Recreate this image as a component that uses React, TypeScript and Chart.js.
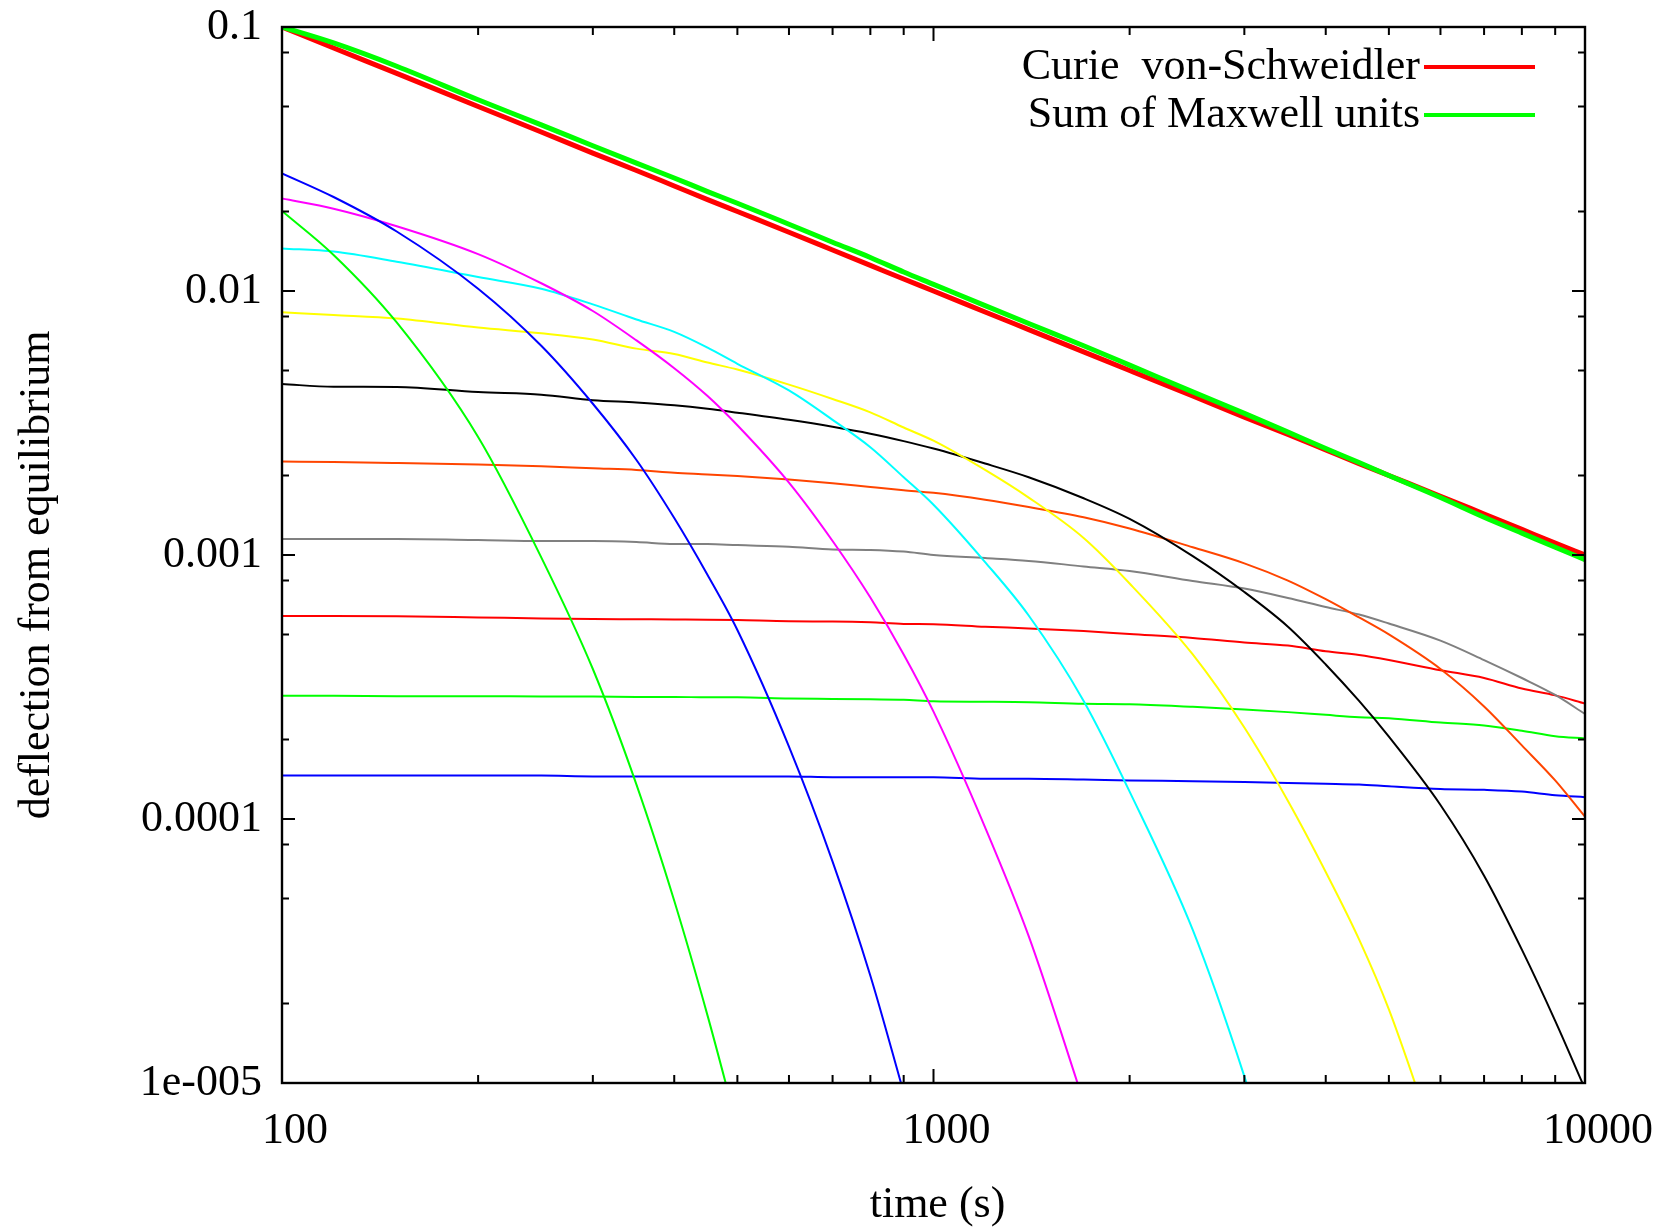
import React, { useEffect, useRef } from "react";
import { Chart, registerables } from "chart.js";

Chart.register(...registerables);

// Sample times (s) shared by every curve
const times = [
  100, 120, 150, 200, 250, 300, 350, 400, 450, 500,
  600, 700, 800, 900, 1000, 1200, 1400, 1700, 2000, 2500,
  3000, 3500, 4000, 4500, 5000, 6000, 7000, 8000, 9000, 10000,
];

// Power-law (Curie - von Schweidler) relaxation
const curieVonSchweidler = [
  0.1, 0.0833, 0.0667, 0.05, 0.04, 0.0333, 0.0286, 0.025, 0.0222, 0.02,
  0.0167, 0.0143, 0.0125, 0.0111, 0.01, 0.00833, 0.00714, 0.00588, 0.005, 0.004,
  0.00333, 0.00286, 0.0025, 0.00222, 0.002, 0.00167, 0.00143, 0.00125, 0.00111, 0.001,
];

// Sum of all the Maxwell units below
const maxwellSum = [
  0.1, 0.087, 0.071, 0.053, 0.0426, 0.0355, 0.0305, 0.0268, 0.0238, 0.0215,
  0.0179, 0.0153, 0.0134, 0.0118, 0.0106, 0.0088, 0.00753, 0.0062, 0.00524, 0.00415,
  0.00344, 0.00292, 0.00253, 0.00224, 0.002, 0.00165, 0.00139, 0.00121, 0.00107, 0.00096,
];

// Individual Maxwell units (null once a unit has decayed off the axis)
const unit1 = [
  0.0201, 0.0137, 0.0076, 0.0028, 0.00098, 0.00037, 0.000135, 0.000049, 0.000018, 0.0000068,
  null, null, null, null, null, null, null, null, null, null,
  null, null, null, null, null, null, null, null, null, null,
];
const unit2 = [
  0.0279, 0.0227, 0.0168, 0.0102, 0.0062, 0.00374, 0.00229, 0.00138, 0.00084, 0.00052,
  0.000188, 0.000069, 0.0000255, 0.0000092, null, null, null, null, null, null,
  null, null, null, null, null, null, null, null, null, null,
];
const unit3 = [
  0.0224, 0.0205, 0.0176, 0.0138, 0.0107, 0.0084, 0.0065, 0.0051, 0.004, 0.0031,
  0.00188, 0.00113, 0.00069, 0.00042, 0.000255, 0.000093, 0.000036, 0.0000085, null, null,
  null, null, null, null, null, null, null, null, null, null,
];
const unit4 = [
  0.0145, 0.0141, 0.0129, 0.0113, 0.0102, 0.0089, 0.0078, 0.007, 0.0061, 0.0053,
  0.0042, 0.00325, 0.00256, 0.00197, 0.00155, 0.00094, 0.00059, 0.00028, 0.000127, 0.000038,
  0.0000106, 0.000003, null, null, null, null, null, null, null, null,
];
const unit5 = [
  0.0083, 0.00811, 0.00787, 0.00727, 0.00692, 0.00655, 0.00605, 0.00577, 0.00536, 0.00504,
  0.00442, 0.0039, 0.00347, 0.00304, 0.00271, 0.0021, 0.00165, 0.00116, 0.00078, 0.00042,
  0.000222, 0.000117, 0.000063, 0.000035, 0.000019, 0.0000052, null, null, null, null,
];
const unit6 = [
  0.00444, 0.00434, 0.00433, 0.00414, 0.00405, 0.00386, 0.00378, 0.00369, 0.00358, 0.00346,
  0.00325, 0.00306, 0.00288, 0.0027, 0.00253, 0.00222, 0.00197, 0.00164, 0.00137, 0.00099,
  0.000724, 0.000535, 0.000385, 0.00028, 0.000205, 0.000113, 0.000061, 0.000032, 0.0000172, 0.0000095,
];
const unit7 = [
  0.00226, 0.00225, 0.00223, 0.0022, 0.00217, 0.00213, 0.0021, 0.00205, 0.00202, 0.00199,
  0.00193, 0.00187, 0.00181, 0.00176, 0.00172, 0.00162, 0.00152, 0.00139, 0.00126, 0.00107,
  0.00093, 0.0008, 0.00068, 0.00058, 0.0005, 0.00037, 0.000267, 0.00019, 0.00014, 0.000102,
];
const unit8 = [
  0.00115, 0.00115, 0.00115, 0.00114, 0.00113, 0.00113, 0.00112, 0.0011, 0.0011, 0.00109,
  0.001075, 0.00105, 0.001045, 0.00103, 0.001, 0.000974, 0.00095, 0.000905, 0.00087, 0.000797,
  0.000746, 0.000687, 0.000635, 0.000595, 0.00055, 0.000474, 0.0004, 0.000342, 0.000295, 0.00025,
];
const unit9 = [
  0.000587, 0.000587, 0.000586, 0.00058, 0.000575, 0.000572, 0.000571, 0.00057, 0.000569, 0.000567,
  0.000561, 0.00056, 0.000556, 0.000548, 0.000547, 0.000535, 0.000527, 0.000515, 0.000502, 0.000485,
  0.000466, 0.000454, 0.000432, 0.000418, 0.0004, 0.000366, 0.000342, 0.000312, 0.000294, 0.000274,
];
const unit10 = [
  0.000293, 0.000293, 0.000292, 0.000292, 0.000291, 0.000291, 0.00029, 0.00029, 0.000289, 0.000289,
  0.000286, 0.000285, 0.000284, 0.000283, 0.000279, 0.000278, 0.000277, 0.000273, 0.000272, 0.000266,
  0.00026, 0.000254, 0.000248, 0.000243, 0.000241, 0.000232, 0.000226, 0.000216, 0.000206, 0.000202,
];
const unit11 = [
  0.000146, 0.000146, 0.000146, 0.000146, 0.000146, 0.000145, 0.000145, 0.000145, 0.000145, 0.000145,
  0.000145, 0.000144, 0.000144, 0.000144, 0.000144, 0.000142, 0.000142, 0.000141, 0.00014, 0.000139,
  0.000138, 0.000137, 0.000136, 0.000135, 0.000133, 0.00013, 0.000129, 0.000127, 0.000123, 0.000121,
];

const unitSeries = [unit1, unit2, unit3, unit4, unit5, unit6, unit7, unit8, unit9, unit10, unit11];
const unitColors = [
  "#00ff00", "#0000ff", "#ff00ff", "#00ffff", "#ffff00", "#000000",
  "#ff4500", "#808080", "#ff0000", "#00ff00", "#0000ff",
];

// Axis ticks and labels
const xMajorTicks = [100, 1000, 10000];
const xMinorTicks = [200, 300, 400, 500, 600, 700, 800, 900, 2000, 3000, 4000, 5000, 6000, 7000, 8000, 9000];
const yMajorTicks = [0.1, 0.01, 0.001, 0.0001, 0.00001];
const yTickLabels = ["0.1", "0.01", "0.001", "0.0001", "1e-005"];
const yMinorTicks = [0.08, 0.05, 0.02, 0.008, 0.005, 0.002, 0.0008, 0.0005, 0.0002, 0.00008, 0.00005, 0.00002];

const legendLabels = ["Curie  von-Schweidler", "Sum of Maxwell units"];
const xTitle = "time (s)";
const yTitle = "deflection from equilibrium";

const FONT = "'Liberation Serif', 'Times New Roman', serif";

const toPoints = (values: (number | null)[]) =>
  times.map((t, i) => ({ x: t, y: values[i] }));

// Plot frame with inward tick marks on all four sides
const framePlugin = {
  id: "frame",
  afterDatasetsDraw(chart: any) {
    const { ctx, chartArea, scales } = chart;
    const { left, right, top, bottom } = chartArea;
    const x = scales.x;
    const y = scales.y;
    ctx.save();
    ctx.strokeStyle = "#000";
    ctx.lineWidth = 2;
    ctx.lineCap = "butt";
    ctx.beginPath();
    const mark = (x1: number, y1: number, x2: number, y2: number) => {
      ctx.moveTo(x1, y1);
      ctx.lineTo(x2, y2);
    };
    xMajorTicks.forEach((v) => {
      const px = x.getPixelForValue(v);
      mark(px, bottom, px, bottom - 14);
      mark(px, top, px, top + 14);
    });
    xMinorTicks.forEach((v) => {
      const px = x.getPixelForValue(v);
      mark(px, bottom, px, bottom - 8);
      mark(px, top, px, top + 8);
    });
    yMajorTicks.forEach((v) => {
      const py = y.getPixelForValue(v);
      mark(left, py, left + 13, py);
      mark(right, py, right - 13, py);
    });
    yMinorTicks.forEach((v) => {
      const py = y.getPixelForValue(v);
      mark(left, py, left + 7, py);
      mark(right, py, right - 7, py);
    });
    ctx.stroke();
    ctx.lineWidth = 2.4;
    ctx.strokeRect(left, top, right - left, bottom - top);
    ctx.restore();
  },
};

// Key in the upper right: label text followed by a line sample
const keyPlugin = {
  id: "key",
  afterDraw(chart: any) {
    const { ctx, chartArea } = chart;
    ctx.save();
    ctx.font = `44px ${FONT}`;
    ctx.textAlign = "right";
    ctx.textBaseline = "middle";
    legendLabels.forEach((label, i) => {
      const ds = chart.data.datasets.find((d: any) => d.label === label);
      if (!ds) return;
      const yy = chartArea.top + 40 + i * 48;
      const x0 = chartArea.right - 161;
      const x1 = chartArea.right - 50;
      ctx.fillStyle = "#000";
      ctx.fillText(label, x0 - 4, yy);
      ctx.strokeStyle = ds.borderColor;
      ctx.lineWidth = 4;
      ctx.beginPath();
      ctx.moveTo(x0, yy);
      ctx.lineTo(x1, yy);
      ctx.stroke();
    });
    ctx.restore();
  },
};

// Axis titles
const titlePlugin = {
  id: "axisTitles",
  afterDraw(chart: any) {
    const { ctx, chartArea } = chart;
    ctx.save();
    ctx.fillStyle = "#000";
    ctx.font = `44px ${FONT}`;
    ctx.textAlign = "center";
    ctx.textBaseline = "middle";
    ctx.fillText(xTitle, (chartArea.left + chartArea.right) / 2 + 4, chartArea.bottom + 122);
    ctx.translate(37, (chartArea.top + chartArea.bottom) / 2 + 20);
    ctx.rotate(-Math.PI / 2);
    ctx.fillText(yTitle, 0, 0);
    ctx.restore();
  },
};

export default function App() {
  const canvasRef = useRef<HTMLCanvasElement | null>(null);

  useEffect(() => {
    const canvas = canvasRef.current;
    if (!canvas) return;

    const unitDatasets = unitSeries.map((values, i) => ({
      label: `Maxwell unit ${i + 1}`,
      data: toPoints(values),
      borderColor: unitColors[i],
      backgroundColor: unitColors[i],
      borderWidth: 2,
      pointRadius: 0,
      cubicInterpolationMode: "monotone",
      spanGaps: false,
      order: 2,
    }));

    const chart = new Chart(canvas, {
      type: "line",
      data: {
        datasets: [
          ...unitDatasets,
          {
            label: legendLabels[0],
            data: toPoints(curieVonSchweidler),
            borderColor: "#ff0000",
            backgroundColor: "#ff0000",
            borderWidth: 5,
            pointRadius: 0,
            cubicInterpolationMode: "monotone",
            order: 1,
          },
          {
            label: legendLabels[1],
            data: toPoints(maxwellSum),
            borderColor: "#00ff00",
            backgroundColor: "#00ff00",
            borderWidth: 5,
            pointRadius: 0,
            cubicInterpolationMode: "monotone",
            order: 0,
          },
        ] as any,
      },
      options: {
        responsive: false,
        animation: false,
        devicePixelRatio: 1,
        events: [],
        parsing: false as any,
        layout: { padding: { top: 27, right: 82, left: 0, bottom: 0 } },
        plugins: {
          legend: { display: false },
          tooltip: { enabled: false },
          title: { display: false },
        },
        scales: {
          x: {
            type: "logarithmic",
            min: 100,
            max: 10000,
            afterBuildTicks: (scale: any) => {
              scale.ticks = xMajorTicks.map((v) => ({ value: v }));
            },
            afterFit: (scale: any) => {
              scale.height = 148;
            },
            grid: { display: false, drawTicks: false },
            border: { display: false },
            ticks: {
              autoSkip: false,
              maxRotation: 0,
              minRotation: 0,
              padding: 22,
              labelOffset: 13,
              color: "#000",
              font: { family: FONT, size: 44 },
              callback: (value: any) => String(value),
            },
          },
          y: {
            type: "logarithmic",
            min: 0.00001,
            max: 0.1,
            afterBuildTicks: (scale: any) => {
              scale.ticks = yMajorTicks.map((v) => ({ value: v }));
            },
            afterFit: (scale: any) => {
              scale.width = 282;
              scale.paddingTop = 0;
              scale.paddingBottom = 0;
            },
            grid: { display: false, drawTicks: false },
            border: { display: false },
            ticks: {
              autoSkip: false,
              padding: 20,
              color: "#000",
              font: { family: FONT, size: 44 },
              callback: (value: any) => {
                const idx = yMajorTicks.indexOf(Number(value));
                return idx >= 0 ? yTickLabels[idx] : "";
              },
            },
          },
        },
      } as any,
      plugins: [framePlugin, keyPlugin, titlePlugin],
    });

    return () => chart.destroy();
  }, []);

  return (
    <div
      style={{
        position: "absolute",
        left: 0,
        top: 0,
        width: 1667,
        height: 1231,
        background: "#ffffff",
      }}
    >
      <canvas ref={canvasRef} width={1667} height={1231} />
    </div>
  );
}
